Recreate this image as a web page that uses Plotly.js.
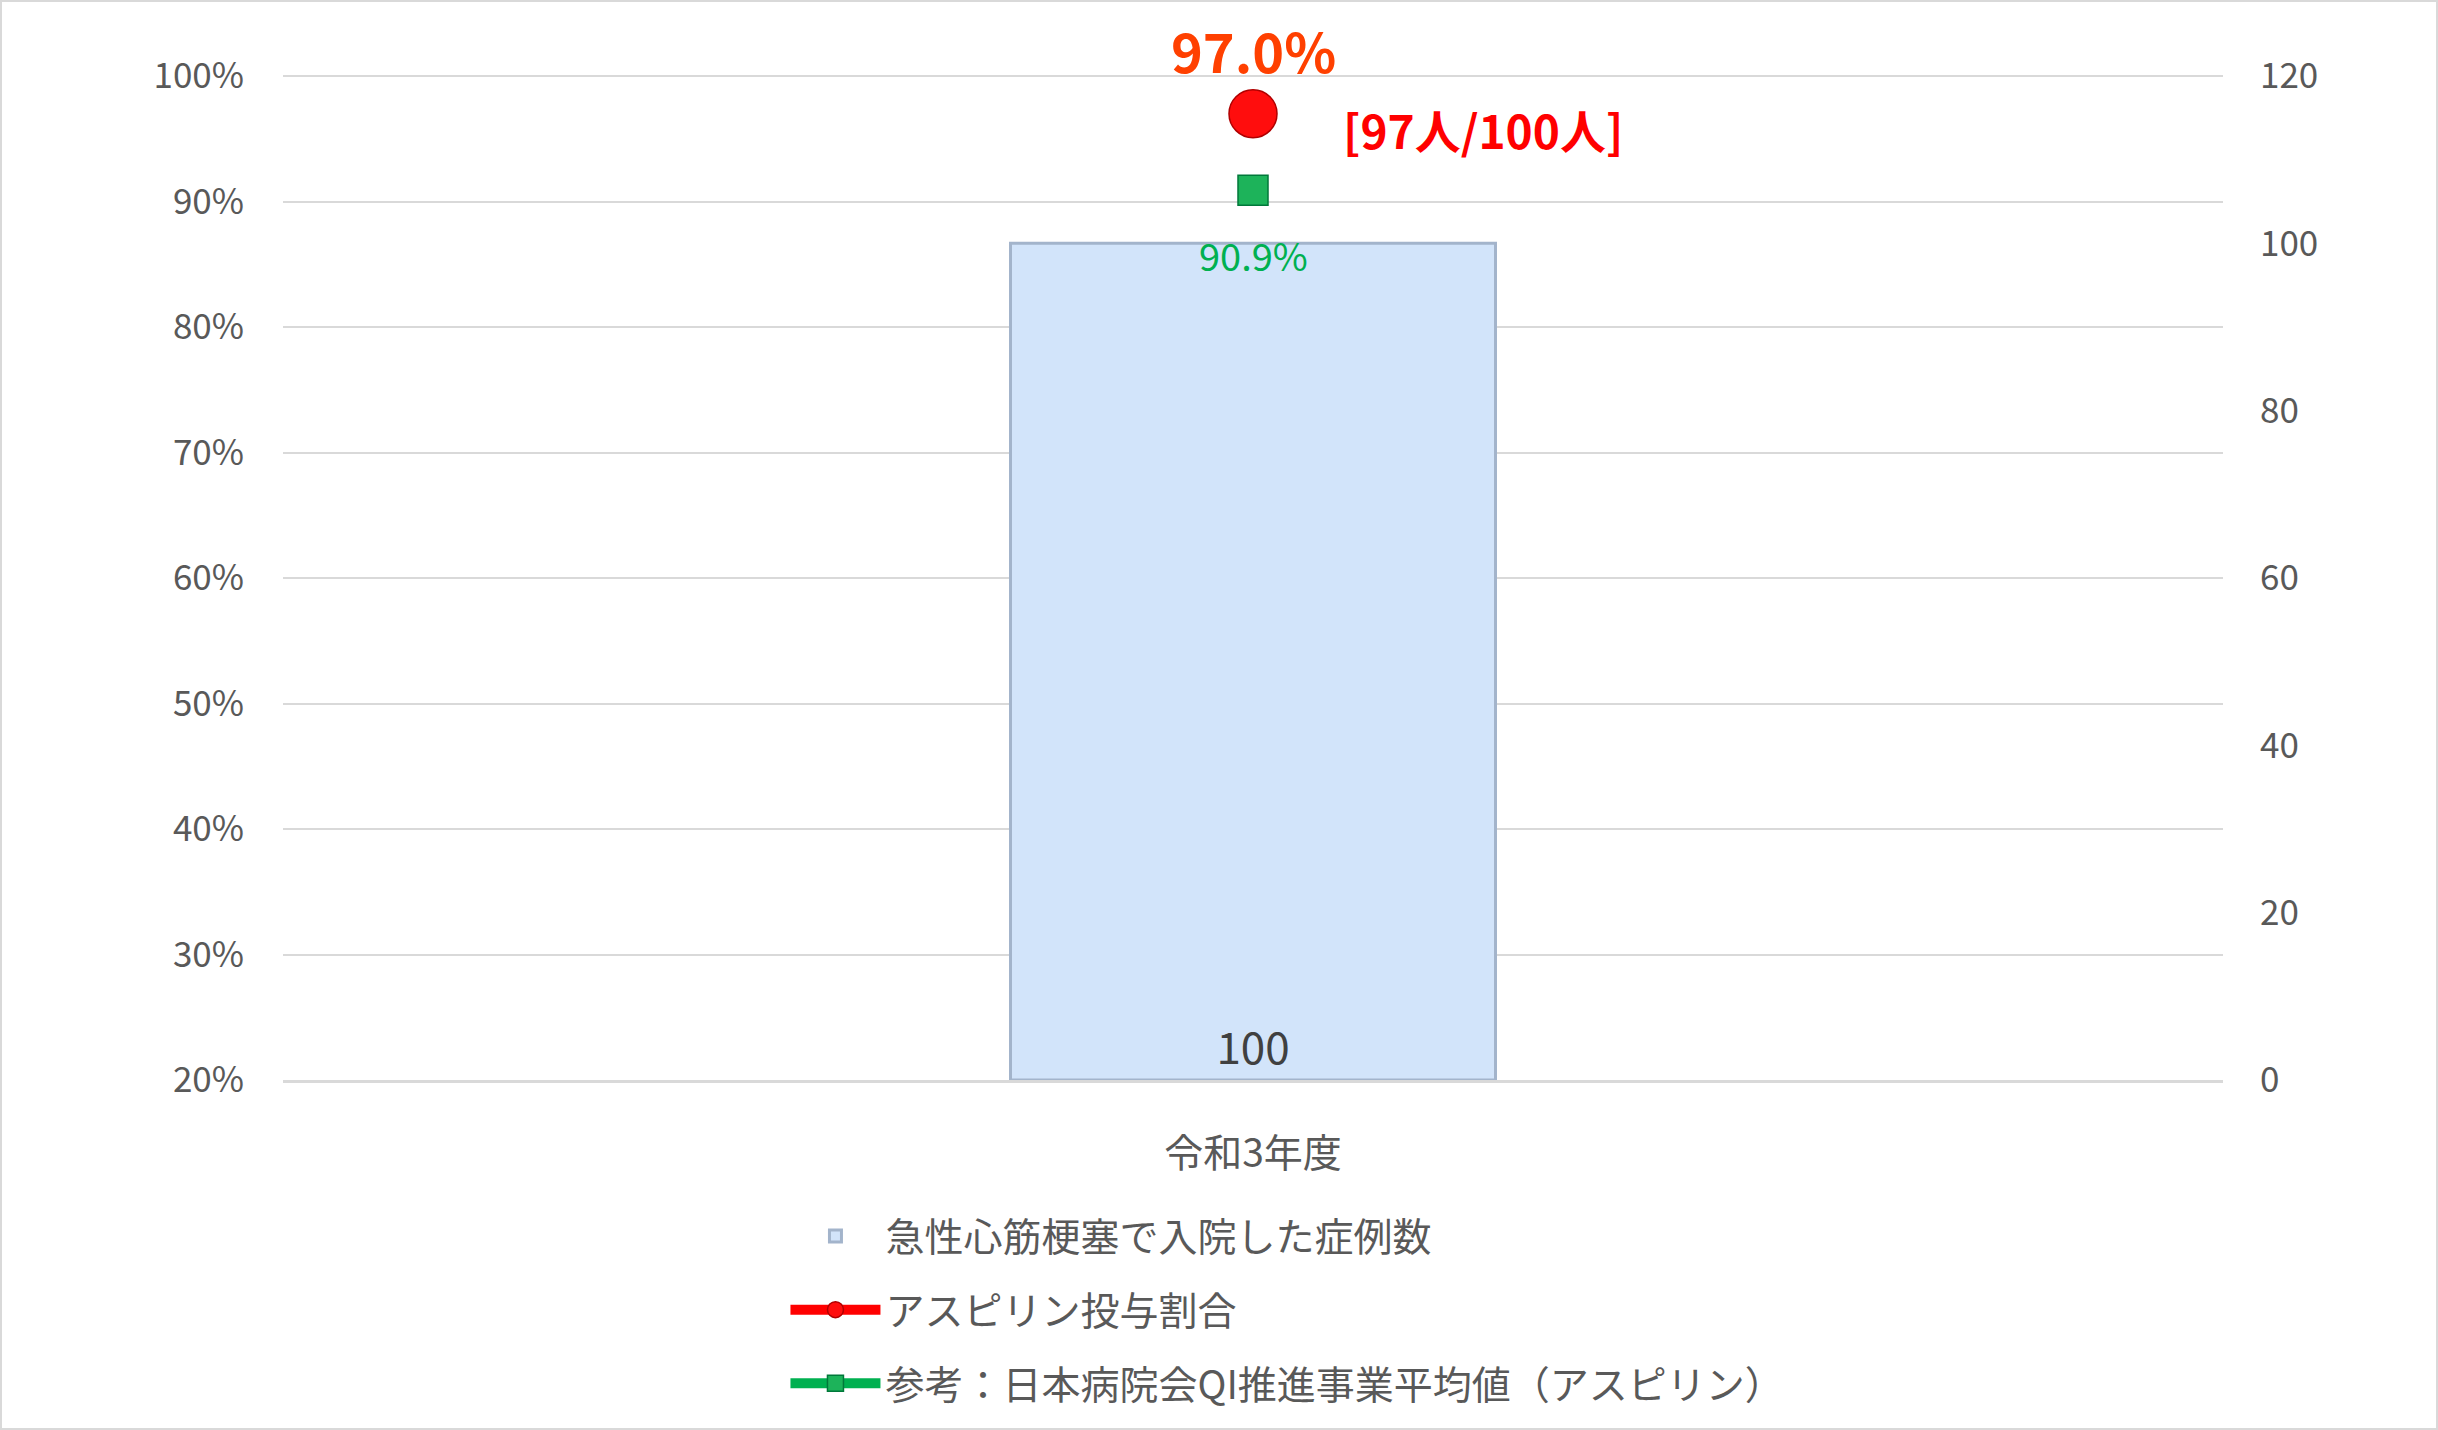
<!DOCTYPE html>
<html>
<head>
<meta charset="utf-8">
<script src="https://cdn.plot.ly/plotly-3.0.1.min.js"></script>
<style>
  body { margin: 0; background: #fff; }
  #frame { width: 2438px; height: 1430px; box-sizing: border-box; border: 2px solid #d9d9d9; }
</style>
</head>
<body>
<div id="frame"><div id="chart"></div></div>
<script>
// data
var categories = ["令和3年度"];
var caseCounts = [100];
var aspirinRate = [0.97];
var aspirinNum = [97];
var aspirinDen = [100];
var qiAverage = [0.909];
var seriesNames = [
  "急性心筋梗塞で入院した症例数",
  "アスピリン投与割合",
  "参考：日本病院会QI推進事業平均値（アスピリン）"
];

var jp = "Noto Sans CJK JP, sans-serif";
var narrow = "Liberation Sans Narrow, Noto Sans CJK JP, sans-serif";

// a little headroom so the 100% gridline is kept; right axis scaled to match
var pctTop = 1.004;
var cntTop = 120 * (pctTop - 0.2) / 0.8;

var bars = {
  x: categories,
  y: caseCounts,
  type: "bar",
  name: seriesNames[0],
  legendgroup: "a",
  yaxis: "y",
  width: 0.25,
  marker: { color: "#d2e4fa", line: { color: "#a3b4cb", width: 3 } },
  text: caseCounts.map(String),
  textposition: "inside",
  insidetextanchor: "start",
  textfont: { family: jp, size: 44, color: "#404040" },
  hoverinfo: "skip"
};

var rate = {
  x: categories,
  y: aspirinRate,
  type: "scatter",
  mode: "lines+markers",
  name: seriesNames[1],
  legendgroup: "b",
  yaxis: "y2",
  line: { color: "#ff0000", width: 10 },
  marker: { symbol: "circle", size: 48, color: "#ff0d0d", line: { color: "#b00000", width: 1.5 } }
};

var avg = {
  x: categories,
  y: qiAverage,
  type: "scatter",
  mode: "lines+markers",
  name: seriesNames[2],
  legendgroup: "c",
  yaxis: "y2",
  line: { color: "#00b050", width: 10 },
  marker: { symbol: "square", size: 30, color: "#1db35a", line: { color: "#00783a", width: 1.5 } }
};

var annotations = [];
categories.forEach(function (c, i) {
  annotations.push({
    x: c, y: aspirinRate[i], xref: "x", yref: "y2",
    text: "<b>" + (aspirinRate[i] * 100).toFixed(1) + "%</b>",
    showarrow: false, yshift: 64,
    font: { family: narrow, size: 54, color: "#ff4000" }
  });
  annotations.push({
    x: c, y: aspirinRate[i], xref: "x", yref: "y2",
    text: "<b>[" + aspirinNum[i] + "人/" + aspirinDen[i] + "人]</b>",
    showarrow: false, xshift: 230, yshift: -15,
    font: { family: narrow, size: 46, color: "#ff0000" }
  });
  annotations.push({
    x: c, y: qiAverage[i], xref: "x", yref: "y2",
    text: (qiAverage[i] * 100).toFixed(1) + "%",
    showarrow: false, yshift: -64,
    font: { family: jp, size: 38, color: "#00b050" }
  });
});

var layout = {
  width: 2434,
  height: 1426,
  margin: { l: 281, r: 213, t: 69, b: 348 },
  paper_bgcolor: "#ffffff",
  plot_bgcolor: "#ffffff",
  showlegend: true,
  legend: {
    x: 0.259, y: -0.123, xanchor: "left", yanchor: "top",
    orientation: "v",
    traceorder: "grouped",
    tracegroupgap: 20,
    itemwidth: 90,
    font: { family: jp, size: 39, color: "#595959" }
  },
  xaxis: {
    type: "category",
    showgrid: false,
    showline: true,
    linecolor: "#d9d9d9",
    linewidth: 3,
    ticks: "",
    ticklabelstandoff: 37,
    tickfont: { family: jp, size: 39, color: "#595959" }
  },
  yaxis: {
    side: "right",
    range: [0, cntTop],
    tick0: 0,
    dtick: 20,
    showgrid: false,
    zeroline: false,
    ticks: "",
    ticklabelstandoff: 36,
    tickfont: { family: jp, size: 35, color: "#595959" }
  },
  yaxis2: {
    side: "left",
    overlaying: "y",
    range: [0.2, pctTop],
    tick0: 0.2,
    dtick: 0.1,
    tickformat: ".0%",
    showgrid: true,
    gridcolor: "#d9d9d9",
    gridwidth: 2,
    zeroline: false,
    ticks: "",
    ticklabelstandoff: 38,
    tickfont: { family: jp, size: 35, color: "#595959" }
  },
  annotations: annotations
};

Plotly.newPlot("chart", [bars, rate, avg], layout, { displayModeBar: false, staticPlot: true });
</script>
</body>
</html>
